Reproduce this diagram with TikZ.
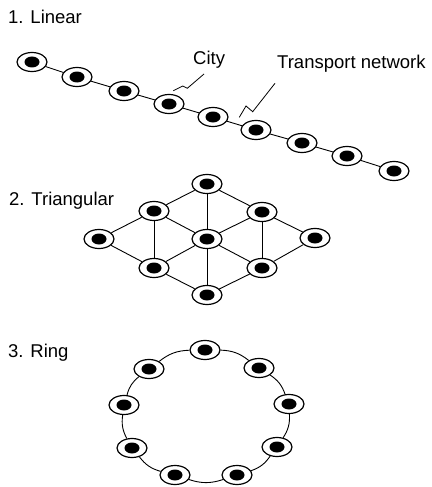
\documentclass[tikz,border=0pt]{standalone}
\usepackage{fontspec}
\setmainfont{Liberation Sans}
\usetikzlibrary{shapes.geometric}

\tikzset{
	ciudad/.style={ellipse, draw, line width=1.2pt, fill=white, inner sep=0pt,
		minimum width=30pt, minimum height=19pt,
		path picture={\fill[black] (path picture bounding box.center) ellipse (7.5pt and 5.5pt);}},
	red/.style={line width=0.9pt},
	titulo/.style={anchor=base west, inner sep=0pt, font=\fontsize{18.5}{22}\selectfont}
}

\begin{document}
\begin{tikzpicture}[x=1pt, y=-1pt]
\useasboundingbox (0,0) rectangle (431,487);

% Lineal
\node[titulo] (t1) at (8,24) {1. Linear};
	\foreach \x/\y [count=\i] in {32/62, 77/77, 124/91, 169/104, 213/117, 256/130, 302/143, 347/156, 394/171}
		\node[ciudad] (L\i) at (\x,\y) {};
	\foreach \i [count=\j from 2] in {1, 2, ..., 8}
		\draw[red] (L\i) -- (L\j);

\node[titulo] (city) at (193,65) {City};
\node[titulo] (network) at (277,68) {Transport network};
\coordinate (c1) at (173.3,90.7);
\coordinate (c2) at (204,74);
\coordinate (n1) at (239.3,117.3);
\coordinate (n2) at (275,83.3);
	\draw[line width=0.8pt] (c1) -- (182.7,86) -- (187.3,88.3) -- (c2);
	\draw[line width=0.8pt] (n1) -- (246,106) -- (252.7,111.7) -- (n2);

% Triangular
\node[titulo] (t2) at (9,205) {2. Triangular};
	\foreach \n/\x/\y in {a/207/184, b/154/211, c/262/212, d/99/239, e/207/239, f/315/238, g/154/268, h/262/268, k/207/295}
		\node[ciudad] (T\n) at (\x,\y) {};
	\foreach \u/\v in {a/b, a/c, a/e, b/d, b/e, b/g, c/e, c/f, c/h, d/g, e/g, e/h, e/k, f/h, g/k, h/k}
		\draw[red] (T\u) -- (T\v);

% Anillo
\node[titulo] (t3) at (8,357) {3. Ring};
	\foreach \x/\y [count=\i] in {205/350, 259/368, 289/404, 277/447, 237/475, 175/475, 132/448, 124/405, 149/369}
		\node[ciudad] (R\i) at (\x,\y) {};
	\foreach \i [count=\j from 2] in {1, 2, ..., 8}
		\draw[red] (R\i) to[bend left=18] (R\j);
	\draw[red] (R9) to[bend left=18] (R1);

\end{tikzpicture}
\end{document}
